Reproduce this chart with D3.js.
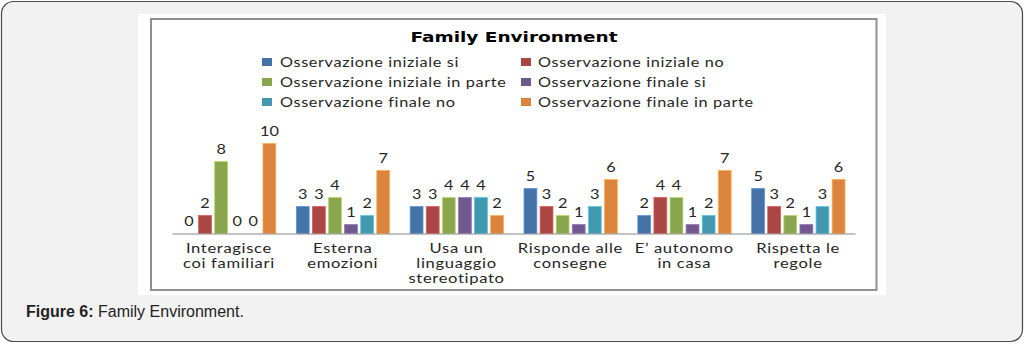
<!DOCTYPE html>
<html><head><meta charset="utf-8">
<script src="https://cdn.jsdelivr.net/npm/d3@7"></script>
<style>
html,body{margin:0;padding:0;background:#fff;}
svg{display:block;}
text{font-variant-ligatures:none;}
</style></head>
<body>
<svg id="c" width="1025" height="344"></svg>
<script>
const categories = [["Interagisce","coi familiari"],["Esterna","emozioni"],["Usa un","linguaggio","stereotipato"],["Risponde alle","consegne"],["E\u2019 autonomo","in casa"],["Rispetta le","regole"]];
const seriesNames = ["Osservazione iniziale si","Osservazione iniziale no","Osservazione iniziale in parte","Osservazione finale si","Osservazione finale no","Osservazione finale in parte"];
const inizialeSi      = [0,3,3,5,2,5];
const inizialeNo      = [2,3,3,3,4,3];
const inizialeInParte = [8,4,4,2,4,2];
const finaleSi        = [0,1,4,1,1,1];
const finaleNo        = [0,2,4,3,2,3];
const finaleInParte   = [10,7,2,6,7,6];
const colors = ["#4572A7","#AA4643","#89A54E","#71588F","#4198AF","#DB843D"];
const title = "Family Environment";
const captionBold = "Figure 6:";
const captionText = " Family Environment.";

const series = [inizialeSi,inizialeNo,inizialeInParte,finaleSi,finaleNo,finaleInParte];
const svg = d3.select("#c");
const FONT = "Lato, Carlito, 'Open Sans', sans-serif";
const FS = 12.5;
const LS = 0.5;
const TXT = "#262626";

function stretch(sel, k){
  sel.each(function(){
    const L = this.getComputedTextLength();
    d3.select(this).attr("textLength", L*k).attr("lengthAdjust","spacingAndGlyphs");
  });
}

// outer card
svg.append("rect").attr("x",1.5).attr("y",1.5).attr("width",1021).attr("height",340)
  .attr("rx",12).attr("fill","#f2f2f2").attr("stroke","#4a4a4a").attr("stroke-width",1.2);
// white panel
svg.append("rect").attr("x",138).attr("y",14).attr("width",748).attr("height",281).attr("fill","#fff");
// chart frame
svg.append("rect").attr("x",151).attr("y",19).attr("width",725.5).attr("height",271)
  .attr("fill","#fff").attr("stroke","#8f8f8f").attr("stroke-width",2);

// title
svg.append("text").attr("x",514).attr("y",42).attr("text-anchor","middle")
  .attr("font-family","DejaVu Sans, Verdana, sans-serif").attr("font-weight","bold")
  .attr("font-size",14).attr("textLength",207).attr("lengthAdjust","spacingAndGlyphs")
  .attr("fill","#000").text(title);

// legend
const legX = [262,521], legY = [62,82,102];
const legTexts = [];
seriesNames.forEach((n,i)=>{
  const col = i%2, row = Math.floor(i/2);
  const g = svg.append("g").attr("transform",`translate(${legX[col]},${legY[row]})`);
  g.append("rect").attr("x",0).attr("y",-4).attr("width",10).attr("height",8).attr("fill",colors[i]);
  legTexts.push(g.append("text").attr("x",col===0?18:17).attr("y",4.5).attr("font-family",FONT)
    .attr("font-size",FS).attr("letter-spacing",LS).attr("fill",TXT).text(n).node());
});
{
  const L0 = legTexts[0].getComputedTextLength();
  stretch(d3.selectAll(legTexts), 179/L0);
}

// scales
const x0 = d3.scaleBand().domain(d3.range(categories.length)).range([172,855]);
const x1 = d3.scaleBand().domain(d3.range(series.length)).range([10.5,x0.bandwidth()-10]).paddingInner(0.2);
const y = d3.scaleLinear().domain([0,10]).range([233.5,143.5]);

const groups = svg.append("g").selectAll("g").data(categories.map((c,ci)=>ci)).join("g")
  .attr("transform",d=>`translate(${x0(d)},0)`);
groups.selectAll("rect").data(ci=>series.map((s,si)=>({si,v:s[ci]}))).join("rect")
  .attr("x",d=>x1(d.si)).attr("width",x1.bandwidth())
  .attr("y",d=>y(d.v)).attr("height",d=>y(0)-y(d.v))
  .attr("fill",d=>colors[d.si]).attr("stroke",d=>d3.color(colors[d.si]).brighter(0.8)).attr("stroke-width",0.8);
groups.selectAll("text.v").data(ci=>series.map((s,si)=>({si,v:s[ci]}))).join("text").attr("class","v")
  .attr("x",d=>x1(d.si)+x1.bandwidth()/2).attr("y",d=>y(d.v)-7).attr("text-anchor","middle")
  .attr("font-family",FONT).attr("font-size",FS).attr("fill",TXT)
  .attr("transform",d=>{const cx=x0.bandwidth()>0?x1(d.si)+x1.bandwidth()/2:0; return `translate(${cx},0) scale(1.3,1) translate(${-cx},0)`;})
  .text(d=>d.v);

// axis line
const axis = d3.axisBottom(x0).tickSize(0).tickFormat("");
const ag = svg.append("g").attr("transform",`translate(0,${y(0)})`).call(axis);
ag.select(".domain").attr("stroke","#888").attr("stroke-width",1);

// category labels
const catNodes = [];
categories.forEach((lines,ci)=>{
  lines.forEach((l,li)=>{
    const tt = svg.append("text").attr("x",x0(ci)+x0.bandwidth()/2).attr("y",252.5+li*15)
      .attr("text-anchor","middle").attr("font-family",FONT).attr("font-size",FS)
      .attr("letter-spacing",LS).attr("fill",TXT).text(l);
    catNodes.push(tt.node());
  });
});
{
  const ref = svg.append("text").attr("font-family",FONT).attr("font-size",FS).attr("letter-spacing",LS).text("Interagisce");
  const k = 86/ref.node().getComputedTextLength();
  ref.remove();
  stretch(d3.selectAll(catNodes), k);
}

// caption
const cap = svg.append("text").attr("x",26).attr("y",317).attr("font-family","Liberation Sans, Arial, sans-serif")
  .attr("font-size",16).attr("fill","#222");
cap.append("tspan").attr("font-weight","bold").text(captionBold);
cap.append("tspan").text(captionText);
</script>
</body></html>
